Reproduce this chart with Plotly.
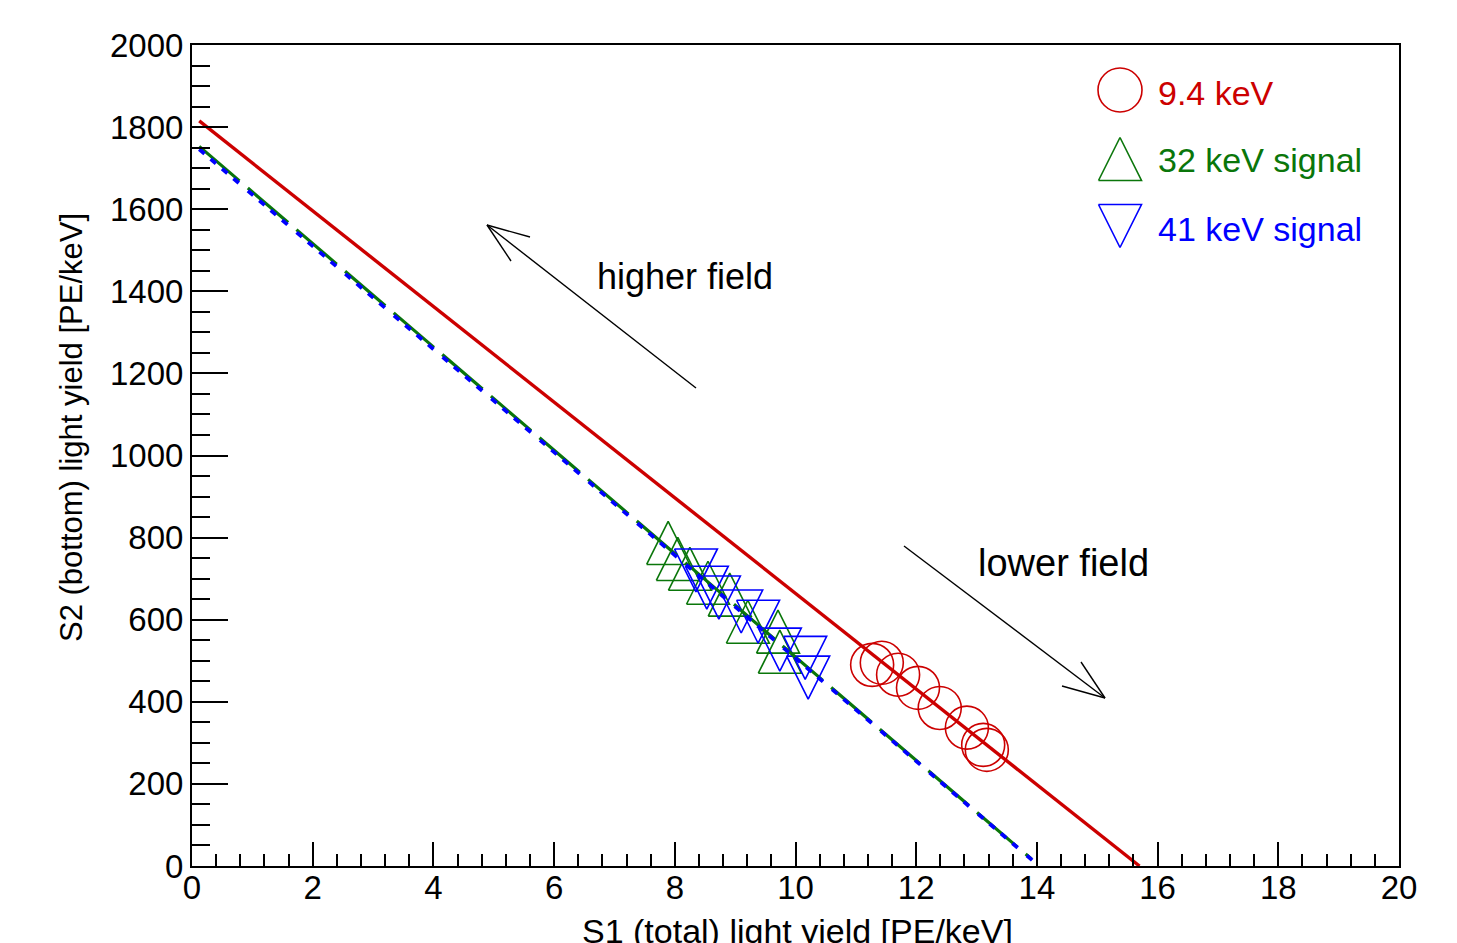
import plotly.graph_objects as go

# ---------------- data ----------------
# 9.4 keV points (open circles)
circ_x = [11.27, 11.43, 11.70, 12.03, 12.39, 12.84, 13.11, 13.17]
circ_y = [490, 495, 466, 434, 385, 337, 295, 283]
# 32 keV signal (open up-triangles)
up_x = [7.89, 8.05, 8.25, 8.55, 8.91, 9.21, 9.71, 9.74]
up_y = [787, 748, 724, 690, 661, 595, 571, 522]
# 41 keV signal (open down-triangles)
down_x = [8.35, 8.53, 8.73, 9.10, 9.38, 9.74, 10.16, 10.21]
down_y = [720, 678, 654, 620, 595, 527, 507, 459]
# fitted lines (end points)
red_fit_x = [0.12, 15.70]
red_fit_y = [1815, 0]
green_fit_x = [0.12, 13.91]
green_fit_y = [1753, 17]
blue_fit_x = [0.12, 14.02]
blue_fit_y = [1746, 2]
# ticks
x_ticks = [0, 2, 4, 6, 8, 10, 12, 14, 16, 18, 20]
y_ticks = [0, 200, 400, 600, 800, 1000, 1200, 1400, 1600, 1800, 2000]
legend_labels = ["9.4 keV", "32 keV signal", "41 keV signal"]

# ---------------- style ----------------
PAGE_OFF = 8                               # default body margin of the html page
W, H = 1457 - PAGE_OFF, 943 - PAGE_OFF
L, R, T, B = 192, 1399, 45, 866            # plot area in page pixels
X_RANGE = [0, 20]
Y_RANGE = [0, 2000]
PX_X = (R - L) / (X_RANGE[1] - X_RANGE[0])
PX_Y = (B - T) / (Y_RANGE[1] - Y_RANGE[0])
RED, GREEN, BLUE = "#cc0000", "#0a760a", "#0000ff"
FONT = "Liberation Sans, Arial, Helvetica, sans-serif"
TRI_HALF = 21.5   # half size of triangle markers in pixels
CIRC_SIZE = 43


def tri_path(xs, ys, up=True, sx=1.0, sy=1.0):
    """Closed triangle outlines around each point (half-size given in data units)."""
    px, py = [], []
    for x, y in zip(xs, ys):
        if up:
            pts = [(x - sx, y - sy), (x + sx, y - sy), (x, y + sy), (x - sx, y - sy)]
        else:
            pts = [(x - sx, y + sy), (x + sx, y + sy), (x, y - sy), (x - sx, y + sy)]
        for a, b in pts:
            px.append(a)
            py.append(b)
        px.append(None)
        py.append(None)
    return px, py


fig = go.Figure()

# circles
fig.add_trace(go.Scatter(x=circ_x, y=circ_y, mode="markers",
                         marker=dict(symbol="circle-open", size=CIRC_SIZE,
                                     color=RED, line=dict(width=1.6, color=RED)),
                         hoverinfo="skip", showlegend=False))
# triangles
dx = TRI_HALF / PX_X
dy = TRI_HALF / PX_Y
ux, uy = tri_path(up_x, up_y, True, dx, dy)
fig.add_trace(go.Scatter(x=ux, y=uy, mode="lines", line=dict(color=GREEN, width=1.6),
                         hoverinfo="skip", showlegend=False, connectgaps=False))
dxs, dys = tri_path(down_x, down_y, False, dx, dy)
fig.add_trace(go.Scatter(x=dxs, y=dys, mode="lines", line=dict(color=BLUE, width=1.6),
                         hoverinfo="skip", showlegend=False, connectgaps=False))

# fit lines
fig.add_trace(go.Scatter(x=red_fit_x, y=red_fit_y, mode="lines",
                         line=dict(color=RED, width=3.4), hoverinfo="skip", showlegend=False))
fig.add_trace(go.Scatter(x=green_fit_x, y=green_fit_y, mode="lines",
                         line=dict(color=GREEN, width=3.2, dash="53px,11px"),
                         hoverinfo="skip", showlegend=False))
fig.add_trace(go.Scatter(x=blue_fit_x, y=blue_fit_y, mode="lines",
                         line=dict(color=BLUE, width=3.8,
                                   dash="7px,8px,7px,8px,7px,8px,7px,12px"),
                         hoverinfo="skip", showlegend=False))

# legend keys (on a pixel overlay axis)
fig.add_trace(go.Scatter(x=[1120], y=[90], mode="markers", xaxis="x2", yaxis="y2",
                         marker=dict(symbol="circle-open", size=CIRC_SIZE + 1, color=RED,
                                     line=dict(width=1.6, color=RED)),
                         hoverinfo="skip", showlegend=False))
lx, ly = tri_path([1120], [159], False, TRI_HALF, TRI_HALF)  # y2 is reversed
fig.add_trace(go.Scatter(x=lx, y=ly, mode="lines", xaxis="x2", yaxis="y2",
                         line=dict(color=GREEN, width=1.6), hoverinfo="skip", showlegend=False))
lx, ly = tri_path([1120], [226], True, TRI_HALF, TRI_HALF)
fig.add_trace(go.Scatter(x=lx, y=ly, mode="lines", xaxis="x2", yaxis="y2",
                         line=dict(color=BLUE, width=1.6), hoverinfo="skip", showlegend=False))

annotations = []
for lab, yy, col in zip(legend_labels, [93, 160, 229], [RED, GREEN, BLUE]):
    annotations.append(dict(x=1156, y=yy, xref="x2", yref="y2", text=lab, showarrow=False,
                            xanchor="left", yanchor="middle",
                            font=dict(family=FONT, size=34, color=col)))

annotations.append(dict(x=685, y=276, xref="x2", yref="y2", text="higher field",
                        showarrow=False, xanchor="center", yanchor="middle",
                        font=dict(family=FONT, size=36, color="black")))
annotations.append(dict(x=1063, y=563, xref="x2", yref="y2", text="lower field",
                        showarrow=False, xanchor="center", yanchor="middle",
                        font=dict(family=FONT, size=38, color="black")))
# axis titles (positions given in page pixels, converted to paper coords)
annotations.append(dict(x=71, y=428, xref="paper", yref="paper", text="S2 (bottom) light yield [PE/keV]",
                        showarrow=False, textangle=-90, xanchor="center", yanchor="middle",
                        font=dict(family=FONT, size=31, color="black")))
annotations.append(dict(x=797, y=931, xref="paper", yref="paper", text="S1 (total) light yield [PE/keV]",
                        showarrow=False, xanchor="center", yanchor="middle",
                        font=dict(family=FONT, size=34, color="black")))
for a in annotations[-2:]:
    a["x"] = (a["x"] - L) / (R - L)
    a["y"] = (B - a["y"]) / (B - T)

# arrows (pixel overlay coordinates)
arrows = [
    ((696, 388), (487, 225)),
    ((904, 546), (1105, 698)),
]
shapes = []
for (x0, y0), (x1, y1) in arrows:
    shapes.append(dict(type="line", xref="x2", yref="y2", x0=x0, y0=y0, x1=x1, y1=y1,
                       line=dict(color="black", width=1.4)))
    sgn = 1 if x1 < x0 else -1
    for bx, by in [(24, 36), (43, 12)]:
        shapes.append(dict(type="line", xref="x2", yref="y2", x0=x1, y0=y1,
                           x1=x1 + sgn * bx, y1=y1 + sgn * by,
                           line=dict(color="black", width=1.4)))

axis_common = dict(showline=True, mirror=True, linecolor="black", linewidth=2,
                   ticks="inside", tickwidth=1.5, tickcolor="black", showgrid=False,
                   zeroline=False, tickfont=dict(family=FONT, size=33, color="black"))

fig.update_layout(
    width=W, height=H,
    margin=dict(l=L - PAGE_OFF, r=W + PAGE_OFF - R, t=T - PAGE_OFF, b=H + PAGE_OFF - B),
    paper_bgcolor="white", plot_bgcolor="white",
    showlegend=False,
    xaxis=dict(range=X_RANGE, tickvals=x_ticks, ticklen=24, ticklabelstandoff=-9,
               minor=dict(dtick=0.4, ticks="inside", ticklen=12, tickwidth=1.5,
                          tickcolor="black", showgrid=False),
               **axis_common),
    yaxis=dict(range=Y_RANGE, tickvals=y_ticks, ticklen=36,
               minor=dict(dtick=50, ticks="inside", ticklen=18, tickwidth=1.5,
                          tickcolor="black", showgrid=False),
               **axis_common),
    xaxis2=dict(range=[L, R], overlaying="x", visible=False, fixedrange=True),
    yaxis2=dict(range=[B, T], overlaying="y", visible=False, fixedrange=True),
    annotations=annotations,
    shapes=shapes,
)

fig.write_html("out.html")
